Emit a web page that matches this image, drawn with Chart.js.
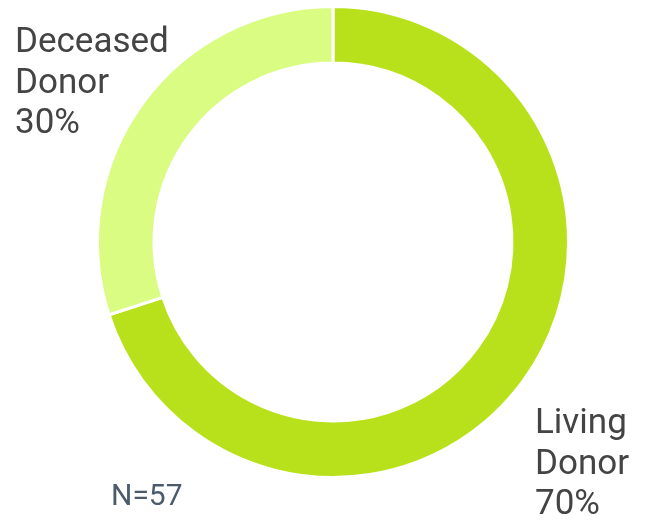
<!DOCTYPE html>
<html>
<head>
<meta charset="utf-8">
<script src="https://cdn.jsdelivr.net/npm/chart.js@4.4.0/dist/chart.umd.min.js"></script>
<style>
    html, body { margin: 0; padding: 0; background: #fff; }
    #wrap { width: 646px; height: 522px; }
</style>
</head>
<body>
<div id="wrap"><canvas id="donorChart" width="646" height="522"></canvas></div>
<script>
const categories = ['Living Donor', 'Deceased Donor'];
const shares = [70, 30];
const sliceColors = ['#b9e11b', '#dafc83'];
const sampleNote = 'N=57';

// baseline of the first line of each slice label
const labelSpots = [
    { x: 535, y: 433 },
    { x: 15, y: 52 }
];

const donorLabels = {
    id: 'donorLabels',
    afterDraw(chart) {
        const ctx = chart.ctx;
        ctx.save();
        ctx.font = '35px Roboto';
        ctx.fillStyle = '#444444';
        ctx.textBaseline = 'alphabetic';
        ctx.textAlign = 'left';
        categories.forEach((name, i) => {
            const lines = name.split(' ').concat([shares[i] + '%']);
            lines.forEach((line, j) => {
                ctx.fillText(line, labelSpots[i].x, labelSpots[i].y + j * 40.5);
            });
        });
        ctx.font = '30px Roboto';
        ctx.fillStyle = '#4b5b6b';
        ctx.fillText(sampleNote, 111, 505);
        ctx.restore();
    }
};

const ctx = document.getElementById('donorChart').getContext('2d');
const donorChart = new Chart(ctx, {
    type: 'doughnut',
    data: {
        labels: categories,
        datasets: [{
            data: shares,
            backgroundColor: sliceColors,
            borderColor: '#ffffff',
            borderWidth: 3
        }]
    },
    options: {
        responsive: false,
        animation: false,
        cutout: '76%',
        layout: {
            padding: { top: 4, bottom: 42, left: 96, right: 76 }
        },
        plugins: {
            legend: { display: false },
            tooltip: { enabled: false }
        }
    },
    plugins: [donorLabels]
});
</script>
</body>
</html>
